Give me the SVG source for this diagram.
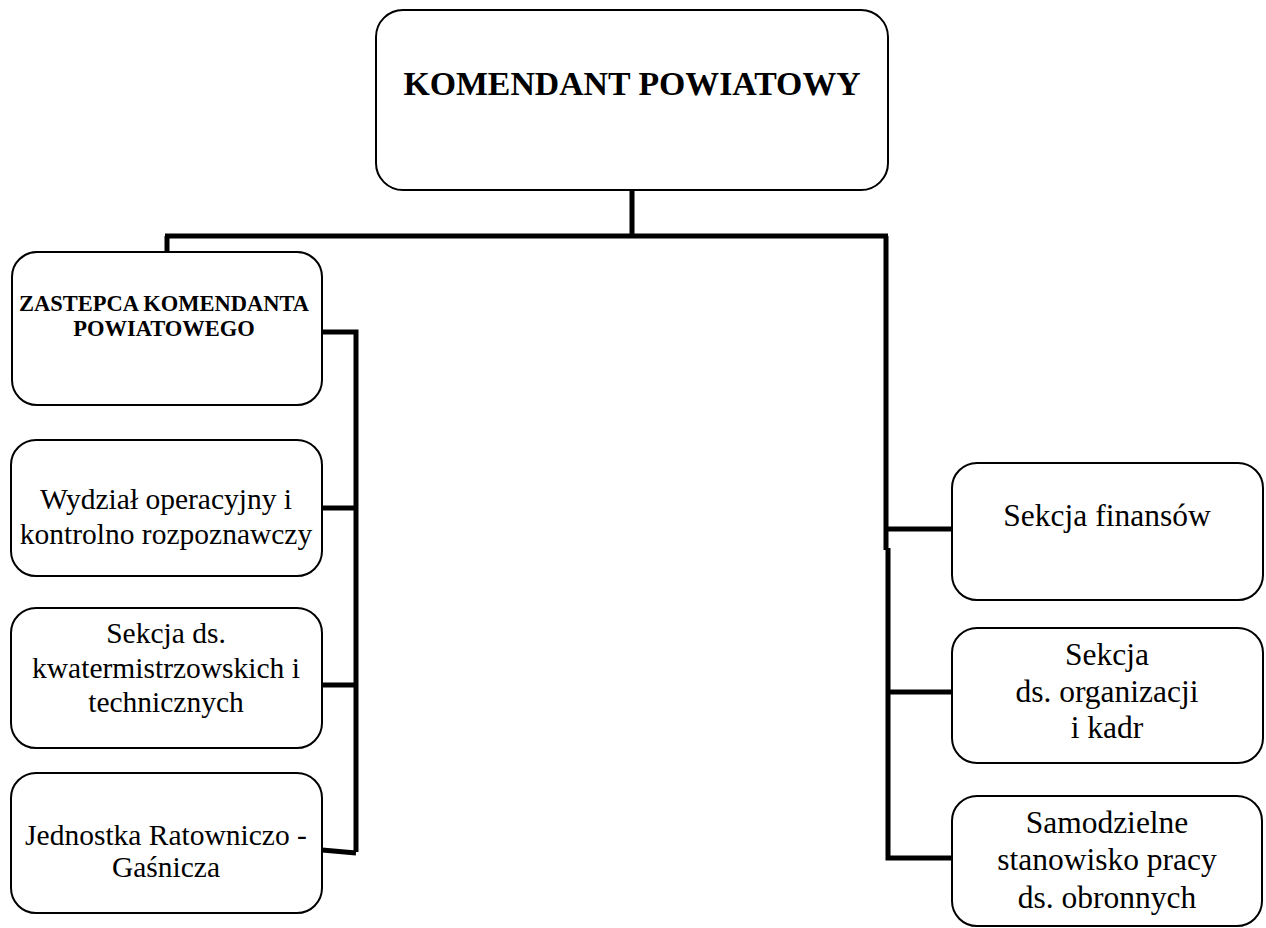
<svg xmlns="http://www.w3.org/2000/svg" width="1266" height="928" viewBox="0 0 1266 928">
<style>
.box{fill:#fff;stroke:#000;stroke-width:2}
.c{fill:none;stroke:#000;stroke-width:5;stroke-linecap:butt;stroke-linejoin:miter}
text{font-family:"Liberation Serif","Times New Roman",serif;fill:#000;text-anchor:middle}
.t{font-size:33.8px;font-weight:bold}
.b{font-size:22.5px;font-weight:bold}
.l{font-size:29.5px}
.r{font-size:31.5px}
</style>
<rect width="1266" height="928" fill="#fff"/>
<g id="connectors">
<path class="c" d="M632 190 V236 M165 236 H888 M167 236 V252"/>
<path class="c" d="M886 236 V550"/>
<path class="c" d="M888 548 V858 H952"/>
<path class="c" d="M886 529 H952 M888 692 H952"/>
<path class="c" d="M322 332 H356 V852 M322 508 H356 M322 685 H356"/>
<path class="c" d="M322 850 L356 853"/>
</g>
<g id="komendant">
<rect class="box" x="376" y="10" width="512" height="180" rx="27"/>
<text class="t" x="632" y="95">KOMENDANT POWIATOWY</text>
</g>
<g id="zastepca">
<rect class="box" x="12" y="252" width="310" height="153" rx="25"/>
<text class="b" x="164" y="311">ZASTEPCA KOMENDANTA</text>
<text class="b" x="164" y="336">POWIATOWEGO</text>
</g>
<g id="wydzial">
<rect class="box" x="11" y="440" width="311" height="136" rx="25"/>
<text class="l" x="166" y="509">Wydział operacyjny i</text>
<text class="l" x="166" y="544">kontrolno rozpoznawczy</text>
</g>
<g id="kwatermistrz">
<rect class="box" x="11" y="608" width="311" height="140" rx="25"/>
<text class="l" x="166" y="643">Sekcja ds.</text>
<text class="l" x="166" y="678">kwatermistrzowskich i</text>
<text class="l" x="166" y="712">technicznych</text>
</g>
<g id="jrg">
<rect class="box" x="11" y="773" width="311" height="140" rx="25"/>
<text class="l" x="166" y="845">Jednostka Ratowniczo -</text>
<text class="l" x="166" y="877">Gaśnicza</text>
</g>
<g id="finanse">
<rect class="box" x="952" y="463" width="311" height="137" rx="25"/>
<text class="r" x="1107" y="526">Sekcja finansów</text>
</g>
<g id="kadry">
<rect class="box" x="952" y="628" width="311" height="135" rx="25"/>
<text class="r" x="1107" y="665">Sekcja</text>
<text class="r" x="1107" y="702">ds. organizacji</text>
<text class="r" x="1107" y="738">i kadr</text>
</g>
<g id="obronne">
<rect class="box" x="952" y="796" width="310" height="130" rx="25"/>
<text class="r" x="1107" y="833">Samodzielne</text>
<text class="r" x="1107" y="870">stanowisko pracy</text>
<text class="r" x="1107" y="908">ds. obronnych</text>
</g>
</svg>
